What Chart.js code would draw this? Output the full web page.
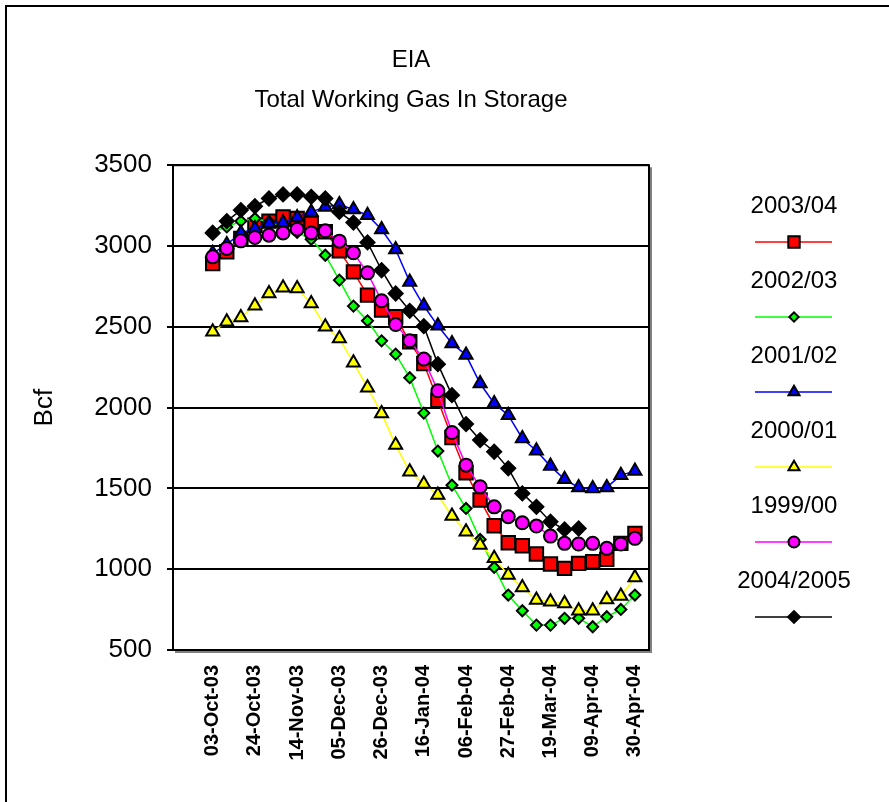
<!DOCTYPE html>
<html>
<head>
<meta charset="utf-8">
<script src="https://cdn.jsdelivr.net/npm/chart.js@4.4.0/dist/chart.umd.min.js"></script>
<style>
  html, body { margin: 0; padding: 0; background: #fff; }
  #wrap { position: relative; width: 889px; height: 802px; overflow: hidden; }
</style>
</head>
<body>
<div id="wrap"><canvas id="chart" width="889" height="802"></canvas></div>
<script>
// --- data (Bcf, weekly from 03-Oct to 30-Apr) ---
const seriesNames = ['2003/04', '2002/03', '2001/02', '2000/01', '1999/00', '2004/2005'];
const tickLabels = ['03-Oct-03', '24-Oct-03', '14-Nov-03', '05-Dec-03', '26-Dec-03', '16-Jan-04',
                    '06-Feb-04', '27-Feb-04', '19-Mar-04', '09-Apr-04', '30-Apr-04'];
const tickStep = 3;

const s2003 = [2892, 2964, 3046, 3129, 3154, 3180, 3170, 3139, 3088, 2970, 2840, 2696, 2603, 2562, 2407, 2273,
               2046, 1815, 1597, 1428, 1269, 1164, 1145, 1094, 1032, 1005, 1036, 1046, 1061, 1160, 1221];
const s2002 = [3090, 3118, 3154, 3170, 3150, 3120, 3085, 3042, 2943, 2789, 2628, 2537, 2413, 2331, 2185, 1966,
               1731, 1520, 1376, 1184, 1011, 840, 743, 654, 654, 696, 696, 644, 706, 751, 840];
const s2001 = [2955, 3010, 3080, 3108, 3139, 3145, 3176, 3211, 3242, 3257, 3226, 3191, 3102, 2978, 2778, 2630,
               2506, 2397, 2325, 2149, 2026, 1953, 1809, 1733, 1638, 1556, 1506, 1500, 1506, 1582, 1607];
const s2000 = [2469, 2531, 2558, 2630, 2706, 2741, 2737, 2644, 2500, 2428, 2277, 2123, 1964, 1768, 1603, 1527,
               1459, 1329, 1232, 1149, 1067, 964, 887, 809, 799, 788, 743, 743, 813, 834, 949];
const s1999 = [2933, 2985, 3032, 3053, 3067, 3081, 3104, 3081, 3094, 3030, 2958, 2834, 2661, 2514, 2413, 2300,
               2104, 1846, 1644, 1510, 1386, 1325, 1287, 1267, 1205, 1160, 1156, 1160, 1129, 1156, 1191];
const s2004 = [3081, 3154, 3222, 3246, 3294, 3319, 3319, 3304, 3294, 3211, 3145, 3022, 2850, 2706, 2599, 2504,
               2269, 2077, 1898, 1799, 1727, 1624, 1469, 1386, 1294, 1246, 1252, null, null, null, null];

const FONT = 'Arial, "Liberation Sans", sans-serif';
const toPoints = arr => arr.map((v, i) => ({ x: i, y: v }));

function makeSet(idx, values, color, style, radius) {
    return {
        label: seriesNames[idx],
        data: toPoints(values),
        borderColor: color,
        borderWidth: 1.5,
        pointStyle: style,
        pointRadius: radius,
        pointBackgroundColor: color,
        pointBorderColor: '#000000',
        pointBorderWidth: 2,
        legendRadius: radius * 0.85,
        tension: 0,
        order: 5 - idx
    };
}

const datasets = [
    makeSet(0, s2003, '#FF0000', 'rect', 9.5),
    makeSet(1, s2002, '#00FF00', 'rectRot', 5.5),
    makeSet(2, s2001, '#0000FF', 'triangle', 7.5),
    makeSet(3, s2000, '#FFFF00', 'triangle', 7.5),
    makeSet(4, s1999, '#FF00FF', 'circle', 6.5),
    makeSet(5, s2004, '#000000', 'rectRot', 7)
];

// --- 枠・影・凡例 ---
const decorations = {
    id: 'decorations',
    beforeDraw(chart) {
        const ctx = chart.ctx;
        ctx.save();
        ctx.strokeStyle = '#000';
        ctx.lineWidth = 2;
        ctx.beginPath();
        ctx.moveTo(6, 802);
        ctx.lineTo(6, 6);
        ctx.lineTo(889, 6);
        ctx.stroke();
        const a = chart.chartArea;
        ctx.strokeStyle = '#808080';
        ctx.beginPath();
        ctx.moveTo(a.left + 2, a.bottom + 2);
        ctx.lineTo(a.right + 2, a.bottom + 2);
        ctx.lineTo(a.right + 2, a.top + 2);
        ctx.stroke();
        ctx.restore();
    },
    beforeDatasetsDraw(chart) {
        const ctx = chart.ctx, a = chart.chartArea;
        ctx.save();
        ctx.strokeStyle = '#000';
        ctx.lineWidth = 2;
        ctx.strokeRect(a.left, a.top, a.right - a.left, a.bottom - a.top);
        ctx.restore();
    },
    afterDraw(chart) {
        const ctx = chart.ctx;
        const cx = chart.chartArea.right + 145;
        chart.data.datasets.forEach((ds, k) => {
            const ty = 206 + 75 * k;
            const ly = 242 + 75 * k;
            ctx.save();
            ctx.fillStyle = '#000';
            ctx.font = '24px ' + FONT;
            ctx.textAlign = 'center';
            ctx.textBaseline = 'middle';
            ctx.fillText(ds.label, cx, ty);
            ctx.strokeStyle = ds.borderColor;
            ctx.lineWidth = 1.5;
            ctx.beginPath();
            ctx.moveTo(cx - 39, ly);
            ctx.lineTo(cx + 38, ly);
            ctx.stroke();
            ctx.fillStyle = ds.pointBackgroundColor;
            ctx.strokeStyle = ds.pointBorderColor;
            ctx.lineWidth = ds.pointBorderWidth;
            Chart.helpers.drawPoint(ctx, {
                pointStyle: ds.pointStyle, radius: ds.legendRadius, rotation: 0, borderWidth: ds.pointBorderWidth
            }, cx, ly);
            ctx.restore();
        });
    }
};

const ctx = document.getElementById('chart').getContext('2d');
new Chart(ctx, {
    type: 'line',
    data: { datasets: datasets },
    options: {
        responsive: false,
        animation: false,
        devicePixelRatio: 1,
        layout: { padding: { left: 0, right: 240, top: 0, bottom: 0 } },
        plugins: {
            legend: { display: false },
            tooltip: { enabled: false },
            title: {
                display: true,
                fullSize: false,
                text: ['EIA', 'Total Working Gas In Storage'],
                color: '#000',
                font: { family: FONT, size: 24, weight: 'normal', lineHeight: 1.65 },
                padding: { top: 41, bottom: 45 }
            }
        },
        scales: {
            x: {
                type: 'linear',
                min: -2.82,
                max: 31,
                grid: { display: false },
                border: { display: true, color: '#000', width: 2 },
                afterBuildTicks: scale => {
                    scale.ticks = tickLabels.map((t, i) => ({ value: i * tickStep }));
                },
                afterFit: scale => { scale.height = 152; },
                ticks: {
                    autoSkip: false,
                    minRotation: 90,
                    maxRotation: 90,
                    padding: 7,
                    color: '#000',
                    font: { family: FONT, size: 20, weight: 'bold' },
                    callback: v => tickLabels[Math.round(v / tickStep)]
                }
            },
            y: {
                min: 500,
                max: 3500,
                grid: { color: '#000', lineWidth: 2, tickLength: 6 },
                border: { display: true, color: '#000', width: 2 },
                afterFit: scale => { scale.width = 173; },
                title: {
                    display: true,
                    text: 'Bcf',
                    color: '#000',
                    font: { family: FONT, size: 26 },
                    padding: { top: 29, bottom: 0 }
                },
                ticks: {
                    stepSize: 500,
                    padding: 15,
                    color: '#000',
                    font: { family: FONT, size: 26 },
                    callback: v => String(v)
                }
            }
        }
    },
    plugins: [decorations]
});
</script>
</body>
</html>
